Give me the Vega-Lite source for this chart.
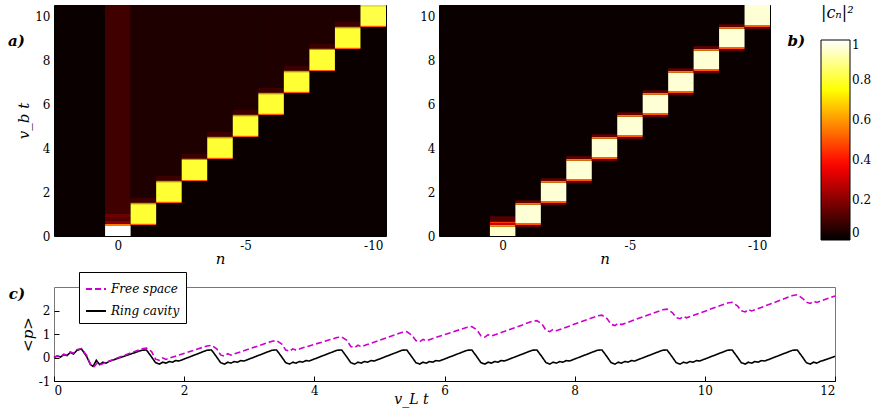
{
  "$schema": "https://vega.github.io/schema/vega-lite/v6.json",
  "background": "white",
  "padding": {"left": 7, "top": 4, "right": 0, "bottom": 2},
  "spacing": 4,
  "config": {
    "font": "DejaVu Serif",
    "view": {"stroke": "black", "strokeWidth": 1},
    "axis": {
      "labelFont": "DejaVu Serif", "labelFontSize": 12, "labelColor": "black",
      "titleFont": "DejaVu Serif", "titleFontSize": 15, "titleFontStyle": "italic", "titleFontWeight": "normal", "titleColor": "black",
      "grid": false, "domain": false, "tickColor": "black", "tickSize": 0, "labelPadding": 4,
      "labelExpr": "replace(datum.label, '−', '-')"
    }
  },
  "datasets": {
    "ha": [
      {"n0":0.5,"n1":-0.5,"t0":0,"t1":0.45,"v":1},
      {"n0":0.5,"n1":-0.5,"t0":0.45,"t1":0.55,"v":0.55},
      {"n0":0.5,"n1":-0.5,"t0":0.55,"t1":0.7,"v":0.2},
      {"n0":0.5,"n1":-0.5,"t0":0.7,"t1":0.85,"v":0.13},
      {"n0":0.5,"n1":-0.5,"t0":0.85,"t1":1.0,"v":0.16},
      {"n0":0.5,"n1":-0.5,"t0":1.0,"t1":10.5,"v":0.095},
      {"n0":-0.5,"n1":-1.5,"t0":0.5,"t1":0.55,"v":0.5},
      {"n0":-0.5,"n1":-1.5,"t0":0.55,"t1":1.45,"v":0.8},
      {"n0":-0.5,"n1":-1.5,"t0":1.45,"t1":1.52,"v":0.55},
      {"n0":-0.5,"n1":-1.5,"t0":1.52,"t1":1.75,"v":0.09},
      {"n0":-0.5,"n1":-1.5,"t0":1.75,"t1":10.5,"v":0.045},
      {"n0":-1.5,"n1":-2.5,"t0":1.5,"t1":1.55,"v":0.5},
      {"n0":-1.5,"n1":-2.5,"t0":1.55,"t1":2.45,"v":0.8},
      {"n0":-1.5,"n1":-2.5,"t0":2.45,"t1":2.52,"v":0.55},
      {"n0":-1.5,"n1":-2.5,"t0":2.52,"t1":2.75,"v":0.09},
      {"n0":-1.5,"n1":-2.5,"t0":2.75,"t1":10.5,"v":0.045},
      {"n0":-2.5,"n1":-3.5,"t0":2.5,"t1":2.55,"v":0.5},
      {"n0":-2.5,"n1":-3.5,"t0":2.55,"t1":3.45,"v":0.8},
      {"n0":-2.5,"n1":-3.5,"t0":3.45,"t1":3.52,"v":0.55},
      {"n0":-2.5,"n1":-3.5,"t0":3.52,"t1":3.75,"v":0.09},
      {"n0":-2.5,"n1":-3.5,"t0":3.75,"t1":10.5,"v":0.045},
      {"n0":-3.5,"n1":-4.5,"t0":3.5,"t1":3.55,"v":0.5},
      {"n0":-3.5,"n1":-4.5,"t0":3.55,"t1":4.45,"v":0.8},
      {"n0":-3.5,"n1":-4.5,"t0":4.45,"t1":4.52,"v":0.55},
      {"n0":-3.5,"n1":-4.5,"t0":4.52,"t1":4.75,"v":0.09},
      {"n0":-3.5,"n1":-4.5,"t0":4.75,"t1":10.5,"v":0.045},
      {"n0":-4.5,"n1":-5.5,"t0":4.5,"t1":4.55,"v":0.5},
      {"n0":-4.5,"n1":-5.5,"t0":4.55,"t1":5.45,"v":0.8},
      {"n0":-4.5,"n1":-5.5,"t0":5.45,"t1":5.52,"v":0.55},
      {"n0":-4.5,"n1":-5.5,"t0":5.52,"t1":5.75,"v":0.09},
      {"n0":-4.5,"n1":-5.5,"t0":5.75,"t1":10.5,"v":0.045},
      {"n0":-5.5,"n1":-6.5,"t0":5.5,"t1":5.55,"v":0.5},
      {"n0":-5.5,"n1":-6.5,"t0":5.55,"t1":6.45,"v":0.8},
      {"n0":-5.5,"n1":-6.5,"t0":6.45,"t1":6.52,"v":0.55},
      {"n0":-5.5,"n1":-6.5,"t0":6.52,"t1":6.75,"v":0.09},
      {"n0":-5.5,"n1":-6.5,"t0":6.75,"t1":10.5,"v":0.045},
      {"n0":-6.5,"n1":-7.5,"t0":6.5,"t1":6.55,"v":0.5},
      {"n0":-6.5,"n1":-7.5,"t0":6.55,"t1":7.45,"v":0.8},
      {"n0":-6.5,"n1":-7.5,"t0":7.45,"t1":7.52,"v":0.55},
      {"n0":-6.5,"n1":-7.5,"t0":7.52,"t1":7.75,"v":0.09},
      {"n0":-6.5,"n1":-7.5,"t0":7.75,"t1":10.5,"v":0.045},
      {"n0":-7.5,"n1":-8.5,"t0":7.5,"t1":7.55,"v":0.5},
      {"n0":-7.5,"n1":-8.5,"t0":7.55,"t1":8.45,"v":0.8},
      {"n0":-7.5,"n1":-8.5,"t0":8.45,"t1":8.52,"v":0.55},
      {"n0":-7.5,"n1":-8.5,"t0":8.52,"t1":8.75,"v":0.09},
      {"n0":-7.5,"n1":-8.5,"t0":8.75,"t1":10.5,"v":0.045},
      {"n0":-8.5,"n1":-9.5,"t0":8.5,"t1":8.55,"v":0.5},
      {"n0":-8.5,"n1":-9.5,"t0":8.55,"t1":9.45,"v":0.8},
      {"n0":-8.5,"n1":-9.5,"t0":9.45,"t1":9.52,"v":0.55},
      {"n0":-8.5,"n1":-9.5,"t0":9.52,"t1":9.75,"v":0.09},
      {"n0":-8.5,"n1":-9.5,"t0":9.75,"t1":10.5,"v":0.045},
      {"n0":-9.5,"n1":-10.5,"t0":9.5,"t1":9.55,"v":0.5},
      {"n0":-9.5,"n1":-10.5,"t0":9.55,"t1":10.45,"v":0.82},
      {"n0":-9.5,"n1":-10.5,"t0":10.45,"t1":10.5,"v":0.7}
    ],
    "hb": [
      {"n0":0.5,"n1":-0.5,"t0":0,"t1":0.42,"v":0.95},
      {"n0":0.5,"n1":-0.5,"t0":0.42,"t1":0.5,"v":0.6},
      {"n0":0.5,"n1":-0.5,"t0":0.5,"t1":0.58,"v":0.3},
      {"n0":0.5,"n1":-0.5,"t0":0.58,"t1":0.66,"v":0.45},
      {"n0":0.5,"n1":-0.5,"t0":0.66,"t1":0.9,"v":0.12},
      {"n0":-0.5,"n1":-1.5,"t0":0.4,"t1":0.5,"v":0.15},
      {"n0":-0.5,"n1":-1.5,"t0":0.5,"t1":0.58,"v":0.5},
      {"n0":-0.5,"n1":-1.5,"t0":0.58,"t1":1.42,"v":0.96},
      {"n0":-0.5,"n1":-1.5,"t0":1.42,"t1":1.5,"v":0.55},
      {"n0":-0.5,"n1":-1.5,"t0":1.5,"t1":1.62,"v":0.15},
      {"n0":-1.5,"n1":-2.5,"t0":1.4,"t1":1.5,"v":0.15},
      {"n0":-1.5,"n1":-2.5,"t0":1.5,"t1":1.58,"v":0.5},
      {"n0":-1.5,"n1":-2.5,"t0":1.58,"t1":2.42,"v":0.96},
      {"n0":-1.5,"n1":-2.5,"t0":2.42,"t1":2.5,"v":0.55},
      {"n0":-1.5,"n1":-2.5,"t0":2.5,"t1":2.62,"v":0.15},
      {"n0":-2.5,"n1":-3.5,"t0":2.4,"t1":2.5,"v":0.15},
      {"n0":-2.5,"n1":-3.5,"t0":2.5,"t1":2.58,"v":0.5},
      {"n0":-2.5,"n1":-3.5,"t0":2.58,"t1":3.42,"v":0.96},
      {"n0":-2.5,"n1":-3.5,"t0":3.42,"t1":3.5,"v":0.55},
      {"n0":-2.5,"n1":-3.5,"t0":3.5,"t1":3.62,"v":0.15},
      {"n0":-3.5,"n1":-4.5,"t0":3.4,"t1":3.5,"v":0.15},
      {"n0":-3.5,"n1":-4.5,"t0":3.5,"t1":3.58,"v":0.5},
      {"n0":-3.5,"n1":-4.5,"t0":3.58,"t1":4.42,"v":0.96},
      {"n0":-3.5,"n1":-4.5,"t0":4.42,"t1":4.5,"v":0.55},
      {"n0":-3.5,"n1":-4.5,"t0":4.5,"t1":4.62,"v":0.15},
      {"n0":-4.5,"n1":-5.5,"t0":4.4,"t1":4.5,"v":0.15},
      {"n0":-4.5,"n1":-5.5,"t0":4.5,"t1":4.58,"v":0.5},
      {"n0":-4.5,"n1":-5.5,"t0":4.58,"t1":5.42,"v":0.96},
      {"n0":-4.5,"n1":-5.5,"t0":5.42,"t1":5.5,"v":0.55},
      {"n0":-4.5,"n1":-5.5,"t0":5.5,"t1":5.62,"v":0.15},
      {"n0":-5.5,"n1":-6.5,"t0":5.4,"t1":5.5,"v":0.15},
      {"n0":-5.5,"n1":-6.5,"t0":5.5,"t1":5.58,"v":0.5},
      {"n0":-5.5,"n1":-6.5,"t0":5.58,"t1":6.42,"v":0.96},
      {"n0":-5.5,"n1":-6.5,"t0":6.42,"t1":6.5,"v":0.55},
      {"n0":-5.5,"n1":-6.5,"t0":6.5,"t1":6.62,"v":0.15},
      {"n0":-6.5,"n1":-7.5,"t0":6.4,"t1":6.5,"v":0.15},
      {"n0":-6.5,"n1":-7.5,"t0":6.5,"t1":6.58,"v":0.5},
      {"n0":-6.5,"n1":-7.5,"t0":6.58,"t1":7.42,"v":0.96},
      {"n0":-6.5,"n1":-7.5,"t0":7.42,"t1":7.5,"v":0.55},
      {"n0":-6.5,"n1":-7.5,"t0":7.5,"t1":7.62,"v":0.15},
      {"n0":-7.5,"n1":-8.5,"t0":7.4,"t1":7.5,"v":0.15},
      {"n0":-7.5,"n1":-8.5,"t0":7.5,"t1":7.58,"v":0.5},
      {"n0":-7.5,"n1":-8.5,"t0":7.58,"t1":8.42,"v":0.96},
      {"n0":-7.5,"n1":-8.5,"t0":8.42,"t1":8.5,"v":0.55},
      {"n0":-7.5,"n1":-8.5,"t0":8.5,"t1":8.62,"v":0.15},
      {"n0":-8.5,"n1":-9.5,"t0":8.4,"t1":8.5,"v":0.15},
      {"n0":-8.5,"n1":-9.5,"t0":8.5,"t1":8.58,"v":0.5},
      {"n0":-8.5,"n1":-9.5,"t0":8.58,"t1":9.42,"v":0.96},
      {"n0":-8.5,"n1":-9.5,"t0":9.42,"t1":9.5,"v":0.55},
      {"n0":-8.5,"n1":-9.5,"t0":9.5,"t1":9.62,"v":0.15},
      {"n0":-9.5,"n1":-10.5,"t0":9.4,"t1":9.5,"v":0.15},
      {"n0":-9.5,"n1":-10.5,"t0":9.5,"t1":9.58,"v":0.5},
      {"n0":-9.5,"n1":-10.5,"t0":9.58,"t1":10.5,"v":0.96}
    ],
    "p": [
      {"t":0,"p":0,"s":"Ring cavity"},{"t":0.05,"p":0.06,"s":"Ring cavity"},{"t":0.1,"p":0.02,"s":"Ring cavity"},{"t":0.15,"p":0.12,"s":"Ring cavity"},{"t":0.2,"p":0.08,"s":"Ring cavity"},{"t":0.25,"p":0.22,"s":"Ring cavity"},{"t":0.3,"p":0.15,"s":"Ring cavity"},{"t":0.35,"p":0.3,"s":"Ring cavity"},{"t":0.42,"p":0.37,"s":"Ring cavity"},{"t":0.5,"p":0.05,"s":"Ring cavity"},{"t":0.56,"p":-0.3,"s":"Ring cavity"},{"t":0.6,"p":-0.38,"s":"Ring cavity"},{"t":0.65,"p":-0.12,"s":"Ring cavity"},{"t":0.7,"p":-0.3,"s":"Ring cavity"},{"t":0.75,"p":-0.2,"s":"Ring cavity"},{"t":0.8,"p":-0.24,"s":"Ring cavity"},{"t":0.85,"p":-0.16,"s":"Ring cavity"},
      {"t":1.35,"p":0.31,"s":"Ring cavity"},{"t":1.42,"p":0.32,"s":"Ring cavity"},{"t":1.5,"p":0.02,"s":"Ring cavity"},{"t":1.56,"p":-0.22,"s":"Ring cavity"},{"t":1.62,"p":-0.28,"s":"Ring cavity"},{"t":1.67,"p":-0.2,"s":"Ring cavity"},{"t":1.72,"p":-0.24,"s":"Ring cavity"},{"t":1.77,"p":-0.17,"s":"Ring cavity"},{"t":1.82,"p":-0.2,"s":"Ring cavity"},{"t":1.87,"p":-0.13,"s":"Ring cavity"},{"t":1.92,"p":-0.15,"s":"Ring cavity"},
      {"t":2.35,"p":0.31,"s":"Ring cavity"},{"t":2.42,"p":0.32,"s":"Ring cavity"},{"t":2.5,"p":0.02,"s":"Ring cavity"},{"t":2.56,"p":-0.22,"s":"Ring cavity"},{"t":2.62,"p":-0.28,"s":"Ring cavity"},{"t":2.67,"p":-0.2,"s":"Ring cavity"},{"t":2.72,"p":-0.24,"s":"Ring cavity"},{"t":2.77,"p":-0.17,"s":"Ring cavity"},{"t":2.82,"p":-0.2,"s":"Ring cavity"},{"t":2.87,"p":-0.13,"s":"Ring cavity"},{"t":2.92,"p":-0.15,"s":"Ring cavity"},
      {"t":3.35,"p":0.31,"s":"Ring cavity"},{"t":3.42,"p":0.32,"s":"Ring cavity"},{"t":3.5,"p":0.02,"s":"Ring cavity"},{"t":3.56,"p":-0.22,"s":"Ring cavity"},{"t":3.62,"p":-0.28,"s":"Ring cavity"},{"t":3.67,"p":-0.2,"s":"Ring cavity"},{"t":3.72,"p":-0.24,"s":"Ring cavity"},{"t":3.77,"p":-0.17,"s":"Ring cavity"},{"t":3.82,"p":-0.2,"s":"Ring cavity"},{"t":3.87,"p":-0.13,"s":"Ring cavity"},{"t":3.92,"p":-0.15,"s":"Ring cavity"},
      {"t":4.35,"p":0.31,"s":"Ring cavity"},{"t":4.42,"p":0.32,"s":"Ring cavity"},{"t":4.5,"p":0.02,"s":"Ring cavity"},{"t":4.56,"p":-0.22,"s":"Ring cavity"},{"t":4.62,"p":-0.28,"s":"Ring cavity"},{"t":4.67,"p":-0.2,"s":"Ring cavity"},{"t":4.72,"p":-0.24,"s":"Ring cavity"},{"t":4.77,"p":-0.17,"s":"Ring cavity"},{"t":4.82,"p":-0.2,"s":"Ring cavity"},{"t":4.87,"p":-0.13,"s":"Ring cavity"},{"t":4.92,"p":-0.15,"s":"Ring cavity"},
      {"t":5.35,"p":0.31,"s":"Ring cavity"},{"t":5.42,"p":0.32,"s":"Ring cavity"},{"t":5.5,"p":0.02,"s":"Ring cavity"},{"t":5.56,"p":-0.22,"s":"Ring cavity"},{"t":5.62,"p":-0.28,"s":"Ring cavity"},{"t":5.67,"p":-0.2,"s":"Ring cavity"},{"t":5.72,"p":-0.24,"s":"Ring cavity"},{"t":5.77,"p":-0.17,"s":"Ring cavity"},{"t":5.82,"p":-0.2,"s":"Ring cavity"},{"t":5.87,"p":-0.13,"s":"Ring cavity"},{"t":5.92,"p":-0.15,"s":"Ring cavity"},
      {"t":6.35,"p":0.31,"s":"Ring cavity"},{"t":6.42,"p":0.32,"s":"Ring cavity"},{"t":6.5,"p":0.02,"s":"Ring cavity"},{"t":6.56,"p":-0.22,"s":"Ring cavity"},{"t":6.62,"p":-0.28,"s":"Ring cavity"},{"t":6.67,"p":-0.2,"s":"Ring cavity"},{"t":6.72,"p":-0.24,"s":"Ring cavity"},{"t":6.77,"p":-0.17,"s":"Ring cavity"},{"t":6.82,"p":-0.2,"s":"Ring cavity"},{"t":6.87,"p":-0.13,"s":"Ring cavity"},{"t":6.92,"p":-0.15,"s":"Ring cavity"},
      {"t":7.35,"p":0.31,"s":"Ring cavity"},{"t":7.42,"p":0.32,"s":"Ring cavity"},{"t":7.5,"p":0.02,"s":"Ring cavity"},{"t":7.56,"p":-0.22,"s":"Ring cavity"},{"t":7.62,"p":-0.28,"s":"Ring cavity"},{"t":7.67,"p":-0.2,"s":"Ring cavity"},{"t":7.72,"p":-0.24,"s":"Ring cavity"},{"t":7.77,"p":-0.17,"s":"Ring cavity"},{"t":7.82,"p":-0.2,"s":"Ring cavity"},{"t":7.87,"p":-0.13,"s":"Ring cavity"},{"t":7.92,"p":-0.15,"s":"Ring cavity"},
      {"t":8.35,"p":0.31,"s":"Ring cavity"},{"t":8.42,"p":0.32,"s":"Ring cavity"},{"t":8.5,"p":0.02,"s":"Ring cavity"},{"t":8.56,"p":-0.22,"s":"Ring cavity"},{"t":8.62,"p":-0.28,"s":"Ring cavity"},{"t":8.67,"p":-0.2,"s":"Ring cavity"},{"t":8.72,"p":-0.24,"s":"Ring cavity"},{"t":8.77,"p":-0.17,"s":"Ring cavity"},{"t":8.82,"p":-0.2,"s":"Ring cavity"},{"t":8.87,"p":-0.13,"s":"Ring cavity"},{"t":8.92,"p":-0.15,"s":"Ring cavity"},
      {"t":9.35,"p":0.31,"s":"Ring cavity"},{"t":9.42,"p":0.32,"s":"Ring cavity"},{"t":9.5,"p":0.02,"s":"Ring cavity"},{"t":9.56,"p":-0.22,"s":"Ring cavity"},{"t":9.62,"p":-0.28,"s":"Ring cavity"},{"t":9.67,"p":-0.2,"s":"Ring cavity"},{"t":9.72,"p":-0.24,"s":"Ring cavity"},{"t":9.77,"p":-0.17,"s":"Ring cavity"},{"t":9.82,"p":-0.2,"s":"Ring cavity"},{"t":9.87,"p":-0.13,"s":"Ring cavity"},{"t":9.92,"p":-0.15,"s":"Ring cavity"},
      {"t":10.35,"p":0.31,"s":"Ring cavity"},{"t":10.42,"p":0.32,"s":"Ring cavity"},{"t":10.5,"p":0.02,"s":"Ring cavity"},{"t":10.56,"p":-0.22,"s":"Ring cavity"},{"t":10.62,"p":-0.28,"s":"Ring cavity"},{"t":10.67,"p":-0.2,"s":"Ring cavity"},{"t":10.72,"p":-0.24,"s":"Ring cavity"},{"t":10.77,"p":-0.17,"s":"Ring cavity"},{"t":10.82,"p":-0.2,"s":"Ring cavity"},{"t":10.87,"p":-0.13,"s":"Ring cavity"},{"t":10.92,"p":-0.15,"s":"Ring cavity"},
      {"t":11.35,"p":0.31,"s":"Ring cavity"},{"t":11.42,"p":0.32,"s":"Ring cavity"},{"t":11.5,"p":0.02,"s":"Ring cavity"},{"t":11.56,"p":-0.22,"s":"Ring cavity"},{"t":11.62,"p":-0.28,"s":"Ring cavity"},{"t":11.67,"p":-0.2,"s":"Ring cavity"},{"t":11.72,"p":-0.24,"s":"Ring cavity"},{"t":11.77,"p":-0.17,"s":"Ring cavity"},{"t":11.87,"p":-0.08,"s":"Ring cavity"},{"t":12,"p":0.05,"s":"Ring cavity"},
      {"t":0,"p":0,"s":"Free space"},{"t":0.05,"p":0.07,"s":"Free space"},{"t":0.1,"p":0.03,"s":"Free space"},{"t":0.15,"p":0.14,"s":"Free space"},{"t":0.2,"p":0.1,"s":"Free space"},{"t":0.25,"p":0.24,"s":"Free space"},{"t":0.3,"p":0.18,"s":"Free space"},{"t":0.35,"p":0.33,"s":"Free space"},{"t":0.42,"p":0.38,"s":"Free space"},{"t":0.5,"p":0.1,"s":"Free space"},{"t":0.56,"p":-0.28,"s":"Free space"},{"t":0.62,"p":-0.38,"s":"Free space"},{"t":0.67,"p":-0.2,"s":"Free space"},{"t":0.72,"p":-0.3,"s":"Free space"},{"t":0.8,"p":-0.2,"s":"Free space"},
      {"t":1.35,"p":0.37,"s":"Free space"},{"t":1.42,"p":0.4,"s":"Free space"},{"t":1.5,"p":0.25,"s":"Free space"},{"t":1.56,"p":-0.07,"s":"Free space"},{"t":1.62,"p":-0.12,"s":"Free space"},{"t":1.67,"p":-0.02,"s":"Free space"},{"t":1.72,"p":-0.08,"s":"Free space"},{"t":1.8,"p":0.0,"s":"Free space"},
      {"t":2.35,"p":0.49,"s":"Free space"},{"t":2.42,"p":0.52,"s":"Free space"},{"t":2.5,"p":0.37,"s":"Free space"},{"t":2.56,"p":0.11,"s":"Free space"},{"t":2.62,"p":0.06,"s":"Free space"},{"t":2.67,"p":0.16,"s":"Free space"},{"t":2.72,"p":0.1,"s":"Free space"},{"t":2.8,"p":0.18,"s":"Free space"},
      {"t":3.35,"p":0.69,"s":"Free space"},{"t":3.42,"p":0.72,"s":"Free space"},{"t":3.5,"p":0.57,"s":"Free space"},{"t":3.56,"p":0.32,"s":"Free space"},{"t":3.62,"p":0.27,"s":"Free space"},{"t":3.67,"p":0.37,"s":"Free space"},{"t":3.72,"p":0.31,"s":"Free space"},{"t":3.8,"p":0.39,"s":"Free space"},
      {"t":4.35,"p":0.85,"s":"Free space"},{"t":4.42,"p":0.88,"s":"Free space"},{"t":4.5,"p":0.73,"s":"Free space"},{"t":4.56,"p":0.47,"s":"Free space"},{"t":4.62,"p":0.42,"s":"Free space"},{"t":4.67,"p":0.52,"s":"Free space"},{"t":4.72,"p":0.46,"s":"Free space"},{"t":4.8,"p":0.54,"s":"Free space"},
      {"t":5.35,"p":1.07,"s":"Free space"},{"t":5.42,"p":1.1,"s":"Free space"},{"t":5.5,"p":0.95,"s":"Free space"},{"t":5.56,"p":0.72,"s":"Free space"},{"t":5.62,"p":0.67,"s":"Free space"},{"t":5.67,"p":0.77,"s":"Free space"},{"t":5.72,"p":0.71,"s":"Free space"},{"t":5.8,"p":0.79,"s":"Free space"},
      {"t":6.35,"p":1.29,"s":"Free space"},{"t":6.42,"p":1.32,"s":"Free space"},{"t":6.5,"p":1.17,"s":"Free space"},{"t":6.56,"p":0.92,"s":"Free space"},{"t":6.62,"p":0.87,"s":"Free space"},{"t":6.67,"p":0.97,"s":"Free space"},{"t":6.72,"p":0.91,"s":"Free space"},{"t":6.8,"p":0.99,"s":"Free space"},
      {"t":7.35,"p":1.54,"s":"Free space"},{"t":7.42,"p":1.57,"s":"Free space"},{"t":7.5,"p":1.42,"s":"Free space"},{"t":7.56,"p":1.15,"s":"Free space"},{"t":7.62,"p":1.1,"s":"Free space"},{"t":7.67,"p":1.2,"s":"Free space"},{"t":7.72,"p":1.14,"s":"Free space"},{"t":7.8,"p":1.22,"s":"Free space"},
      {"t":8.35,"p":1.77,"s":"Free space"},{"t":8.42,"p":1.8,"s":"Free space"},{"t":8.5,"p":1.65,"s":"Free space"},{"t":8.56,"p":1.41,"s":"Free space"},{"t":8.62,"p":1.36,"s":"Free space"},{"t":8.67,"p":1.46,"s":"Free space"},{"t":8.72,"p":1.4,"s":"Free space"},{"t":8.8,"p":1.48,"s":"Free space"},
      {"t":9.35,"p":2.03,"s":"Free space"},{"t":9.42,"p":2.06,"s":"Free space"},{"t":9.5,"p":1.91,"s":"Free space"},{"t":9.56,"p":1.7,"s":"Free space"},{"t":9.62,"p":1.65,"s":"Free space"},{"t":9.67,"p":1.75,"s":"Free space"},{"t":9.72,"p":1.69,"s":"Free space"},{"t":9.8,"p":1.77,"s":"Free space"},
      {"t":10.35,"p":2.32,"s":"Free space"},{"t":10.42,"p":2.35,"s":"Free space"},{"t":10.5,"p":2.2,"s":"Free space"},{"t":10.56,"p":1.99,"s":"Free space"},{"t":10.62,"p":1.94,"s":"Free space"},{"t":10.67,"p":2.04,"s":"Free space"},{"t":10.72,"p":1.98,"s":"Free space"},{"t":10.8,"p":2.06,"s":"Free space"},
      {"t":11.35,"p":2.64,"s":"Free space"},{"t":11.42,"p":2.67,"s":"Free space"},{"t":11.5,"p":2.52,"s":"Free space"},{"t":11.56,"p":2.35,"s":"Free space"},{"t":11.62,"p":2.3,"s":"Free space"},{"t":11.67,"p":2.4,"s":"Free space"},{"t":11.72,"p":2.34,"s":"Free space"},{"t":11.8,"p":2.42,"s":"Free space"},{"t":12,"p":2.62,"s":"Free space"}
    ]
  },
  "resolve": {
    "scale": {"fill": "independent", "stroke": "independent", "strokeDash": "independent"},
    "legend": {"fill": "independent", "stroke": "independent", "strokeDash": "independent"}
  },
  "vconcat": [
    {
      "spacing": 32,
      "hconcat": [
        {
          "width": 332, "height": 231,
          "view": {"fill": "#0b0000", "stroke": "black"},
          "title": {"text": "a)", "orient": "left", "angle": 0, "anchor": "end", "align": "right", "baseline": "top", "font": "DejaVu Serif", "fontSize": 15, "fontStyle": "italic", "fontWeight": "bold", "color": "black", "offset": -25, "dy": 29},
          "data": {"name": "ha"},
          "mark": {"type": "rect"},
          "encoding": {
            "x": {"field": "n0", "type": "quantitative", "scale": {"domain": [-10.5, 2.5], "reverse": true, "nice": false, "zero": false}, "axis": {"values": [0, -5, -10], "title": "n", "titlePadding": 0}},
            "x2": {"field": "n1"},
            "y": {"field": "t0", "type": "quantitative", "scale": {"domain": [0, 10.5], "nice": false}, "axis": {"values": [0, 2, 4, 6, 8, 10], "title": "v_b t", "titlePadding": 3}},
            "y2": {"field": "t1"},
            "fill": {"field": "v", "type": "quantitative",
              "scale": {"domain": [0, 0.375, 0.75, 1], "range": ["#000000", "#ff0000", "#ffff00", "#ffffff"], "interpolate": "rgb"},
              "legend": {"orient": "right", "offset": 15, "direction": "vertical", "gradientLength": 200, "gradientThickness": 29, "gradientStrokeColor": "black", "gradientStrokeWidth": 1, "values": [0, 0.2, 0.4, 0.6, 0.8, 1], "format": "~g", "labelFont": "DejaVu Serif", "labelFontSize": 12, "labelColor": "black", "labelOffset": 2, "title": "|cₙ|²", "titleFont": "DejaVu Serif", "titleFontSize": 16, "titleFontStyle": "italic", "titleFontWeight": "normal", "titleColor": "black", "titlePadding": 19}
            }
          }
        },
        {
          "width": 331, "height": 231,
          "view": {"fill": "#0b0000", "stroke": "black"},
          "title": {"text": "b)", "orient": "right", "angle": 0, "anchor": "start", "align": "left", "baseline": "top", "font": "DejaVu Serif", "fontSize": 15, "fontStyle": "italic", "fontWeight": "bold", "color": "black", "offset": 0, "dy": 29},
          "data": {"name": "hb"},
          "mark": {"type": "rect"},
          "encoding": {
            "x": {"field": "n0", "type": "quantitative", "scale": {"domain": [-10.5, 2.5], "reverse": true, "nice": false, "zero": false}, "axis": {"values": [0, -5, -10], "title": "n", "titlePadding": 0}},
            "x2": {"field": "n1"},
            "y": {"field": "t0", "type": "quantitative", "scale": {"domain": [0, 10.5], "nice": false}, "axis": {"values": [0, 2, 4, 6, 8, 10], "title": null}},
            "y2": {"field": "t1"},
            "fill": {"field": "v", "type": "quantitative",
              "scale": {"domain": [0, 0.375, 0.75, 1], "range": ["#000000", "#ff0000", "#ffff00", "#ffffff"], "interpolate": "rgb"}}
          }
        }
      ]
    },
    {
      "width": 781, "height": 94,
      "view": {"stroke": "#777777"},
      "title": {"text": "c)", "orient": "left", "angle": 0, "anchor": "end", "align": "right", "baseline": "top", "font": "DejaVu Serif", "fontSize": 15, "fontStyle": "italic", "fontWeight": "bold", "color": "black", "offset": -21, "dy": 15},
      "data": {"name": "p"},
      "mark": {"type": "line", "strokeWidth": 1.6},
      "encoding": {
        "x": {"field": "t", "type": "quantitative", "scale": {"domain": [0, 12], "nice": false}, "axis": {"values": [0, 2, 4, 6, 8, 10, 12], "title": "v_L t", "titleFontSize": 14, "titlePadding": -4, "titleX": 357, "domain": true, "domainColor": "black", "tickSize": -5, "labelPadding": 9}},
        "y": {"field": "p", "type": "quantitative", "scale": {"domain": [-1, 3], "nice": false}, "axis": {"values": [-1, 0, 1, 2], "title": "<p>", "titlePadding": 3, "tickSize": -5, "labelPadding": 9}},
        "stroke": {"field": "s", "type": "nominal", "scale": {"domain": ["Free space", "Ring cavity"], "range": ["#cc00cc", "#000000"]},
          "legend": {"orient": "none", "legendX": 25, "legendY": -15, "title": null, "symbolType": "stroke", "symbolSize": 400, "symbolStrokeWidth": 2, "labelFont": "DejaVu Serif", "labelFontStyle": "italic", "labelFontSize": 12, "labelColor": "black", "labelOffset": 4, "strokeColor": "black", "fillColor": "white", "padding": 6, "rowPadding": 5}},
        "strokeDash": {"field": "s", "type": "nominal", "scale": {"domain": ["Free space", "Ring cavity"], "range": [[6, 3], [1, 0]]},
          "legend": {"orient": "none", "legendX": 25, "legendY": -15, "title": null, "symbolType": "stroke", "symbolSize": 400, "symbolStrokeWidth": 2, "labelFont": "DejaVu Serif", "labelFontStyle": "italic", "labelFontSize": 12, "labelColor": "black", "labelOffset": 4, "strokeColor": "black", "fillColor": "white", "padding": 6, "rowPadding": 5}}
      }
    }
  ]
}
